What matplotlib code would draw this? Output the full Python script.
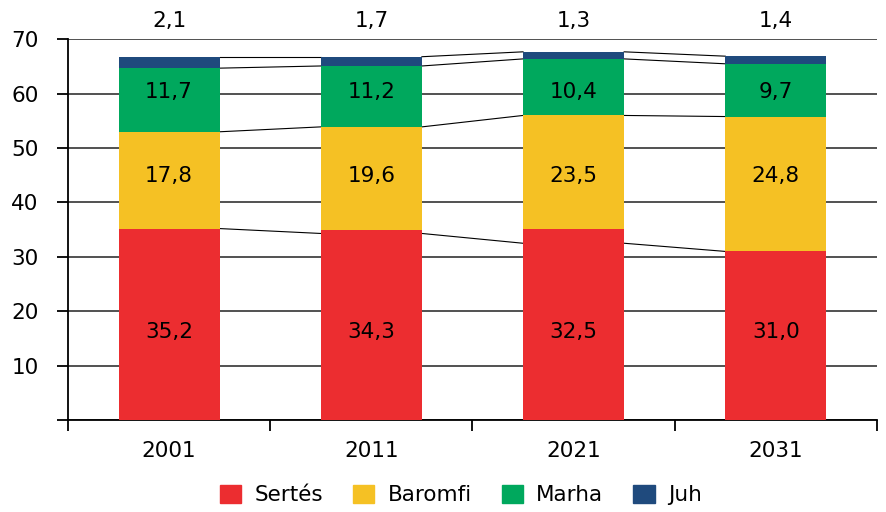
import matplotlib.pyplot as plt
import numpy as np
from matplotlib.patches import Patch

plt.rcParams['font.family'] = ['DejaVu Sans']

evek = ['2001', '2011', '2021', '2031']
sertes = [35.2, 34.3, 32.5, 31.0]
baromfi = [17.8, 19.6, 23.5, 24.8]
marha = [11.7, 11.2, 10.4, 9.7]
juh = [2.1, 1.7, 1.3, 1.4]
# a piros oszlopok a kepen nem a felirt ertekig mennek
sertes_rajz = [35.2, 35.0, 35.2, 31.0]

nevek = ['Sertés', 'Baromfi', 'Marha', 'Juh']
szinek = ['#EC2D30', '#F5C124', '#00A85D', '#1F4A7D']

def fmt(v):
    return '{:.1f}'.format(v).replace('.', ',')

x = np.arange(len(evek))
szel = 0.5

s = np.array(sertes)
b = np.array(baromfi)
m = np.array(marha)
j = np.array(juh)
sr = np.array(sertes_rajz)
h1 = s + b
h2 = h1 + m
h3 = h2 + j

fig = plt.figure(figsize=(8.86, 5.12), dpi=100)
ax = fig.add_axes([0.0767, 0.1797, 0.9898 - 0.0767, 0.9232 - 0.1797])

ax.bar(x, sr, szel, color=szinek[0], zorder=3)
ax.bar(x, h1 - sr, szel, bottom=sr, color=szinek[1], zorder=3)
ax.bar(x, m, szel, bottom=h1, color=szinek[2], zorder=3)
ax.bar(x, j, szel, bottom=h2, color=szinek[3], zorder=3)

# osszekoto vonalak a szegmensek tetejen
for teto in [s, h1, h2, h3]:
    for i in range(len(x) - 1):
        ax.plot([x[i] + szel/2, x[i+1] - szel/2], [teto[i], teto[i+1]],
                color='black', lw=0.8, zorder=2)

# a feliratok soronkent kb. egy magassagban vannak
y_s = np.mean(s/2) - 0.1
y_b = np.mean(s + b/2) + 1.3
y_m = np.mean(h1 + m/2) + 0.55

fs = 15.5
for i in range(len(x)):
    ax.text(x[i], y_s, fmt(sertes[i]), ha='center', va='center_baseline', fontsize=fs, zorder=4)
    ax.text(x[i], y_b, fmt(baromfi[i]), ha='center', va='center_baseline', fontsize=fs, zorder=4)
    ax.text(x[i], y_m, fmt(marha[i]), ha='center', va='center_baseline', fontsize=fs, zorder=4)
    ax.text(x[i], 1.053, fmt(juh[i]), ha='center', va='center_baseline', fontsize=fs,
            transform=ax.get_xaxis_transform(), clip_on=False)

ax.set_xlim(-0.5, len(x) - 0.5)
ax.set_ylim(0, 70)
ax.set_yticks(np.arange(0, 71, 10))
ax.set_yticklabels([''] + [str(v) for v in range(10, 71, 10)])
ax.set_xticks(x)
ax.set_xticklabels(evek)
ax.set_xticks(np.arange(-0.5, len(x), 1), minor=True)
ax.tick_params(axis='x', which='major', length=0, pad=15, labelsize=fs)
ax.tick_params(axis='x', which='minor', length=8, width=1.3, direction='out')
ax.tick_params(axis='y', length=8, width=1.3, labelsize=fs, pad=13)

ax.grid(axis='y', color='#222222', lw=1.1, zorder=1)
ax.spines['top'].set_visible(False)
ax.spines['right'].set_visible(False)
ax.spines['left'].set_linewidth(1.3)
ax.spines['bottom'].set_linewidth(1.3)

kezelok = [Patch(color=c) for c in szinek]
fig.legend(kezelok, nevek, loc='center', bbox_to_anchor=(0.52, 0.033), ncol=4,
           frameon=False, fontsize=15.5, handlelength=1.0, handleheight=0.9,
           handletextpad=0.6, columnspacing=1.4)

fig.savefig('out.png', dpi=100)
